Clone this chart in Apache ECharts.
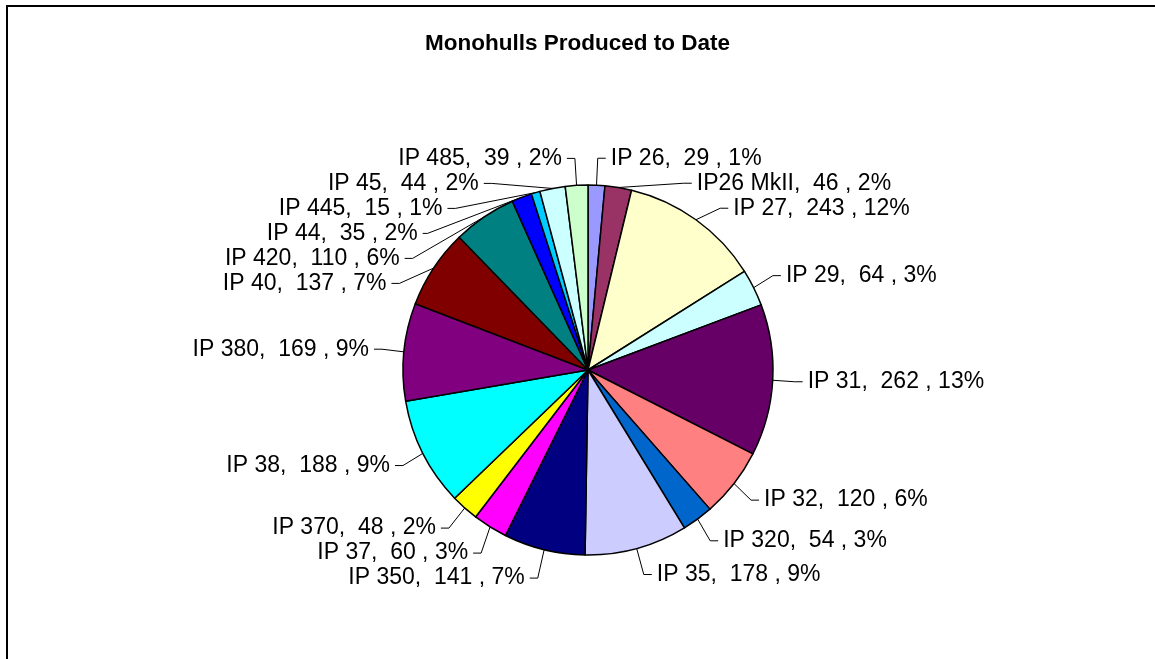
<!DOCTYPE html>
<html>

<head>
    <meta charset="UTF-8">
    <title>Monohulls Produced to Date</title>
    <script type="text/javascript" src="https://cdn.jsdelivr.net/npm/echarts@6/dist/echarts.min.js"></script>
</head>

<body style="margin: 0;padding: 0;background: #fff;">
    <div id="container" style="width:1155px; height:659px;"></div>
    <script>
        // boat models, clockwise from 12 o'clock
        var models = ["IP 26", "IP26 MkII", "IP 27", "IP 29", "IP 31", "IP 32", "IP 320", "IP 35", "IP 350",
            "IP 37", "IP 370", "IP 38", "IP 380", "IP 40", "IP 420", "IP 44", "IP 445", "IP 45", "IP 485"];
        var produced = [29, 46, 243, 64, 262, 120, 54, 178, 141, 60, 48, 188, 169, 137, 110, 35, 15, 44, 39];
        var sliceColors = ["#9999FF", "#993366", "#FFFFCC", "#CCFFFF", "#660066", "#FF8080", "#0066CC", "#CCCCFF",
            "#000080", "#FF00FF", "#FFFF00", "#00FFFF", "#800080", "#800000", "#008080", "#0000FF", "#00CCFF",
            "#CCFFFF", "#CCFFCC"];

        var total = produced.reduce((a, b) => a + b, 0);

        var chart = echarts.init(document.getElementById('container'), null, {
            renderer: 'canvas'
        });

        var option = {
            animation: false,
            backgroundColor: '#ffffff',
            title: {
                text: 'Monohulls Produced to Date',
                left: 'center',
                top: 27,
                textStyle: {
                    fontFamily: 'Arial, Liberation Sans',
                    fontSize: 22.5,
                    fontWeight: 'bold',
                    color: '#000'
                }
            },
            // chart frame (only top and left edges are inside the picture)
            graphic: [{
                type: 'rect',
                shape: { x: 7, y: 6, width: 1200, height: 700 },
                style: { fill: 'none', stroke: '#000', lineWidth: 2 }
            }],
            series: [{
                type: 'pie',
                center: [588, 370],
                radius: 185,
                startAngle: 90,
                clockwise: true,
                avoidLabelOverlap: true,
                data: models.map((m, i) => ({
                    name: m,
                    value: produced[i],
                    itemStyle: { color: sliceColors[i] }
                })),
                itemStyle: {
                    borderColor: '#000',
                    borderWidth: 1.5
                },
                label: {
                    show: true,
                    position: 'outside',
                    fontFamily: 'Arial, Liberation Sans',
                    fontSize: 23,
                    lineHeight: 23,
                    color: '#000',
                    formatter: function (p) {
                        return p.name + ',  ' + p.value + ' , ' + Math.round(p.value / total * 100) + '%';
                    }
                },
                labelLine: {
                    show: true,
                    length: 27,
                    length2: 8,
                    lineStyle: { color: '#000', width: 1 }
                },
                emphasis: { disabled: true }
            }]
        };
        chart.setOption(option);
    </script>
</body>

</html>
